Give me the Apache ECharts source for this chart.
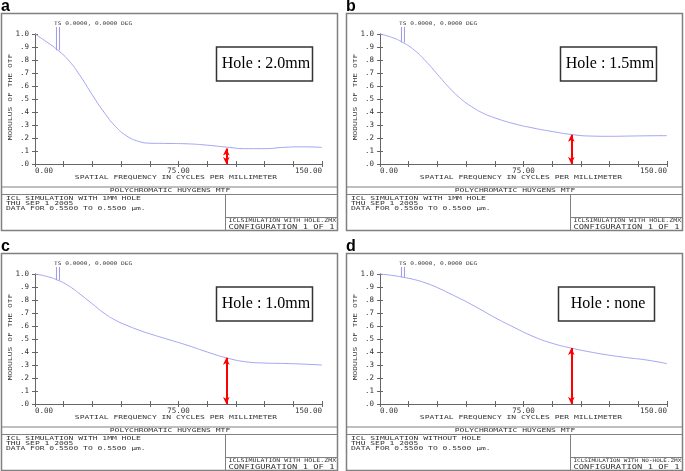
<!DOCTYPE html>
<html><head><meta charset="utf-8">
<script src="https://cdn.jsdelivr.net/npm/echarts@6/dist/echarts.min.js"></script>
<style>html,body{margin:0;padding:0;background:#fff}#c{width:685px;height:471px}</style>
</head><body><div id="c"></div>
<script>
// ---- data ----
const freq = [0, 6, 12, 18, 24, 30, 36, 42, 48, 54, 60, 70, 80, 90, 100, 110, 120, 130, 140, 150];
const mtfA = [1.0, 0.94, 0.875, 0.79, 0.67, 0.53, 0.40, 0.29, 0.215, 0.175, 0.16, 0.158, 0.155, 0.145, 0.13, 0.118, 0.118, 0.128, 0.132, 0.128];
const mtfB = [1.0, 0.975, 0.935, 0.875, 0.79, 0.69, 0.59, 0.505, 0.44, 0.39, 0.355, 0.31, 0.277, 0.25, 0.227, 0.215, 0.213, 0.215, 0.217, 0.218];
const mtfC = [1.0, 0.982, 0.952, 0.905, 0.84, 0.77, 0.70, 0.645, 0.605, 0.57, 0.54, 0.495, 0.45, 0.40, 0.355, 0.325, 0.315, 0.312, 0.307, 0.30];
const mtfD = [1.0, 0.99, 0.975, 0.957, 0.93, 0.895, 0.853, 0.81, 0.764, 0.715, 0.665, 0.59, 0.52, 0.467, 0.43, 0.40, 0.375, 0.355, 0.337, 0.31];
const panelLetters = ['a', 'b', 'c', 'd'];
const holeLabels = ['Hole : 2.0mm', 'Hole : 1.5mm', 'Hole : 1.0mm', 'Hole : none'];
const arrowFreq = 100;
const arrowValues = [0.12, 0.225, 0.355, 0.43];
const tsFreq = 12;
const tsLabel = 'TS 0.0000, 0.0000 DEG';
const xTickLabels = { 0: '0.00', 75: '75.00', 150: '150.00' };
const xTitle = 'SPATIAL FREQUENCY IN CYCLES PER MILLIMETER';
const yTitle = 'MODULUS OF THE OTF';
const plotTitle = 'POLYCHROMATIC HUYGENS MTF';
const simTitles = ['ICL SIMULATION WITH 1MM HOLE', 'ICL SIMULATION WITH 1MM HOLE', 'ICL SIMULATION WITH 1MM HOLE', 'ICL SIMULATION WITHOUT HOLE'];
const dateLine = 'THU SEP 1 2005';
const dataLine = 'DATA FOR 0.5500 TO 0.5500 \u00b5m.';
const zmxNames = ['ICLSIMULATION WITH HOLE.ZMX', 'ICLSIMULATION WITH HOLE.ZMX', 'ICLSIMULATION WITH HOLE.ZMX', 'ICLSIMULATION WITH NO-HOLE.ZMX'];
const configLine = 'CONFIGURATION 1 OF 1';
const series = [mtfA, mtfB, mtfC, mtfD];

// ---- layout ----
const OX = [0, 345, 0, 345];
const OY = [0, 0, 240, 240];
const boxX = [216, 215, 216, 213];
const MONO = 'DejaVu Sans Mono';
const FRAME = '#808080';
const AX = '#666';
const TXT = '#333';

const chart = echarts.init(document.getElementById('c'), null, { renderer: 'canvas' });

const grids = [], xAxes = [], yAxes = [], ser = [], gfx = [];
for (let i = 0; i < 4; i++) {
  const ox = OX[i], oy = OY[i];
  grids.push({ left: 35 + ox, top: 34 + oy, width: 287, height: 130, containLabel: false });
  const tick = { show: true, inside: true, length: 3, lineStyle: { color: AX, width: 1 } };
  const line = { show: true, lineStyle: { color: AX, width: 1 } };
  xAxes.push({
    gridIndex: i, type: 'value', min: 0, max: 150, interval: 15, position: 'bottom',
    axisLine: line, axisTick: tick, splitLine: { show: false },
    axisLabel: {
      formatter: v => xTickLabels[v] || '', fontFamily: MONO, fontSize: 7.5, color: TXT, margin: 3,
      alignMinLabel: 'left', alignMaxLabel: 'right', showMinLabel: true, showMaxLabel: true
    }
  });
  xAxes.push({
    gridIndex: i, type: 'value', min: 0, max: 150, interval: 15, position: 'top',
    axisLine: line, axisTick: tick, splitLine: { show: false }, axisLabel: { show: false }
  });
  yAxes.push({
    gridIndex: i, type: 'value', min: 0, max: 1, interval: 0.1, position: 'left',
    axisLine: line, axisTick: tick, splitLine: { show: false },
    axisLabel: {
      formatter: v => (Math.round(v * 10) === 10 ? '1.0' : '.' + Math.round(v * 10)),
      fontFamily: MONO, fontSize: 7.5, color: TXT, margin: 6, padding: [0, 0, 4, 0]
    }
  });
  yAxes.push({
    gridIndex: i, type: 'value', min: 0, max: 1, interval: 0.1, position: 'right',
    axisLine: line, axisTick: tick, splitLine: { show: false }, axisLabel: { show: false }
  });
  ser.push({
    type: 'line', xAxisIndex: 2 * i, yAxisIndex: 2 * i,
    data: freq.map((f, k) => [f, series[i][k]]),
    smooth: 0.5, showSymbol: false, symbol: 'none',
    lineStyle: { color: '#a4a4f2', width: 1 },
    markLine: {
      silent: true, symbol: ['arrow', 'arrow'], symbolSize: [5, 7],
      lineStyle: { color: '#ff0000', width: 2, type: 'solid' },
      label: { show: false },
      data: [[{ coord: [arrowFreq, 0] }, { coord: [arrowFreq, arrowValues[i]] }]]
    }
  });

  // panel frame
  gfx.push({ type: 'rect', shape: { x: 1.5 + ox, y: 13.5 + oy, width: 336, height: 217 }, style: { fill: 'none', stroke: FRAME, lineWidth: 1.5 }, silent: true });
  gfx.push({ type: 'line', shape: { x1: 1.5 + ox, y1: 187 + oy, x2: 337.5 + ox, y2: 187 + oy }, style: { stroke: FRAME, lineWidth: 1.2 }, silent: true });
  gfx.push({ type: 'line', shape: { x1: 1.5 + ox, y1: 194.5 + oy, x2: 337.5 + ox, y2: 194.5 + oy }, style: { stroke: FRAME, lineWidth: 1.2 }, silent: true });
  gfx.push({ type: 'line', shape: { x1: 225.5 + ox, y1: 194.5 + oy, x2: 225.5 + ox, y2: 230.5 + oy }, style: { stroke: FRAME, lineWidth: 1 }, silent: true });
  gfx.push({ type: 'line', shape: { x1: 225.5 + ox, y1: 217.5 + oy, x2: 337.5 + ox, y2: 217.5 + oy }, style: { stroke: FRAME, lineWidth: 1 }, silent: true });

  // letter
  gfx.push({ type: 'text', x: 1 + ox, y: 7 + oy, style: { text: panelLetters[i], font: 'bold 16px "Liberation Sans"', fill: '#000', align: 'left', verticalAlign: 'middle' }, silent: true });
  // TS label
  gfx.push({ type: 'text', x: 54 + ox, y: 23.5 + oy, scaleY: 0.8, style: { text: tsLabel, font: '6.2px "' + MONO + '"', fill: TXT, align: 'left', verticalAlign: 'middle' }, silent: true });
  // axis titles
  gfx.push({ type: 'text', x: 176 + ox, y: 177 + oy, scaleY: 0.75, style: { text: xTitle, font: '8px "' + MONO + '"', fill: TXT, align: 'center', verticalAlign: 'middle' }, silent: true });
  gfx.push({ type: 'text', x: 10 + ox, y: 97 + oy, rotation: Math.PI / 2, scaleY: 0.75, style: { text: yTitle, font: '8px "' + MONO + '"', fill: TXT, align: 'center', verticalAlign: 'middle' }, silent: true });
  // title block
  gfx.push({ type: 'text', x: 170 + ox, y: 191 + oy, scaleY: 0.7, style: { text: plotTitle, font: '8px "' + MONO + '"', fill: TXT, align: 'center', verticalAlign: 'middle' }, silent: true });
  [simTitles[i], dateLine, dataLine].forEach((t, k) => {
    gfx.push({ type: 'text', x: 6 + ox, y: 199 + 5 * k + oy, scaleY: 0.6, style: { text: t, font: '8px "' + MONO + '"', fill: TXT, align: 'left', verticalAlign: 'middle' }, silent: true });
  });
  const zmxSize = (108 / zmxNames[i].length / 0.602).toFixed(2);
  gfx.push({ type: 'text', x: 228.5 + ox, y: 221 + oy, scaleY: 0.8, style: { text: zmxNames[i], font: zmxSize + 'px "' + MONO + '"', fill: TXT, align: 'left', verticalAlign: 'middle' }, silent: true });
  gfx.push({ type: 'text', x: 228.5 + ox, y: 227 + oy, scaleY: 0.7, style: { text: configLine, font: '8.8px "' + MONO + '"', fill: TXT, align: 'left', verticalAlign: 'middle' }, silent: true });
  // hole box
  gfx.push({ type: 'rect', z: 10, shape: { x: boxX[i] + ox + 0.5, y: 47 + oy, width: 96, height: 34 }, style: { fill: '#fff', stroke: '#333', lineWidth: 1.5 }, silent: true });
  gfx.push({ type: 'text', z: 11, x: boxX[i] + 50 + ox, y: 64 + oy, style: { text: holeLabels[i], font: '16px "Liberation Serif"', fill: '#000', align: 'center', verticalAlign: 'middle' }, silent: true });
}

chart.setOption({
  animation: false,
  backgroundColor: '#fff',
  grid: grids, xAxis: xAxes, yAxis: yAxes, series: ser, graphic: gfx
});

// TS marker: double vertical line from above plot down to the curve at tsFreq
const tsLines = [];
for (let i = 0; i < 4; i++) {
  const k = freq.indexOf(tsFreq);
  const p = chart.convertToPixel({ gridIndex: i }, [tsFreq, series[i][k]]);
  const topY = 27 + OY[i];
  [-1.5, 1.5].forEach(dx => {
    tsLines.push({ type: 'line', shape: { x1: p[0] + dx, y1: topY, x2: p[0] + dx, y2: p[1] }, style: { stroke: '#9a9ae8', lineWidth: 1 }, silent: true });
  });
}
chart.setOption({ graphic: gfx.concat(tsLines) });
</script>
</body></html>
